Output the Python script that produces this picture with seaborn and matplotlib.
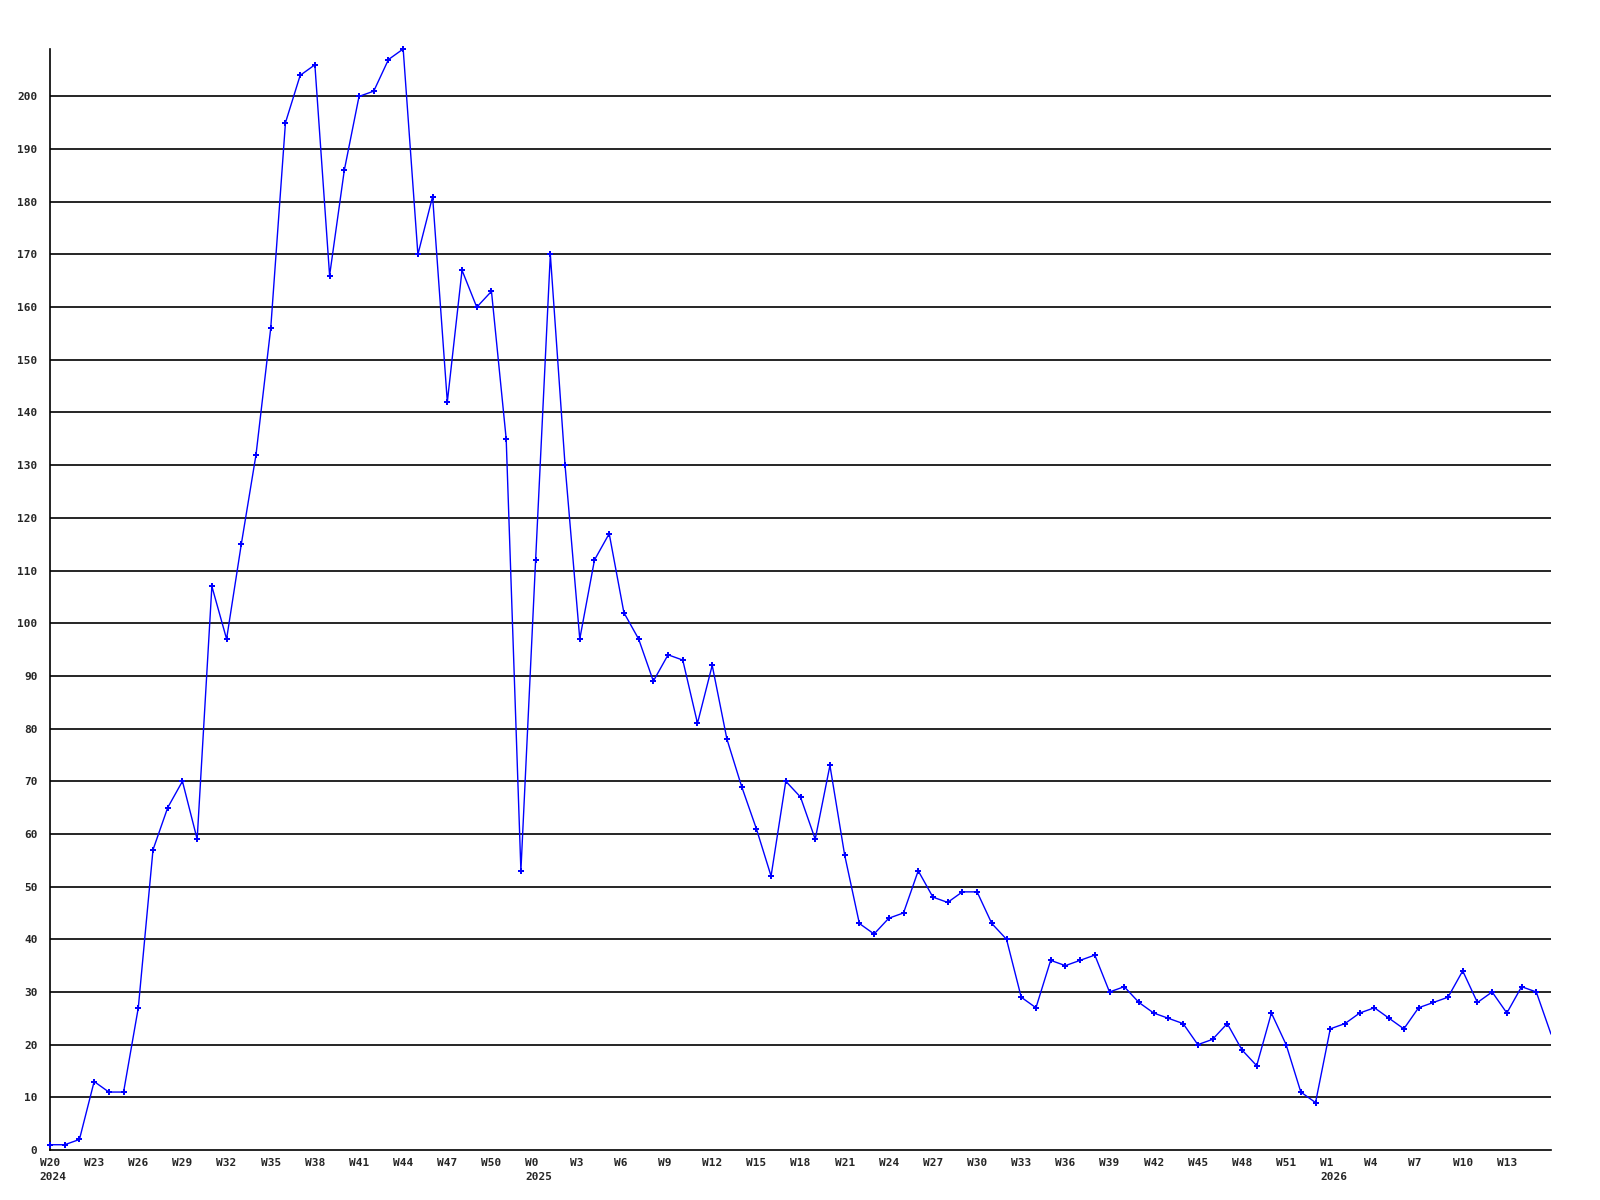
import matplotlib
matplotlib.use("Agg")
import matplotlib.pyplot as plt
import seaborn as sns
import pandas as pd

# Weekly values, 2024-W20 .. 2026-W16
weeks_2024 = ["W20", "W21", "W22", "W23", "W24", "W25", "W26", "W27", "W28", "W29",
              "W30", "W31", "W32", "W33", "W34", "W35", "W36", "W37", "W38", "W39",
              "W40", "W41", "W42", "W43", "W44", "W45", "W46", "W47", "W48", "W49",
              "W50", "W51", "W52"]
values_2024 = [1, 1, 2, 13, 11, 11, 27, 57, 65, 70,
               59, 107, 97, 115, 132, 156, 195, 204, 206, 166,
               186, 200, 201, 207, 209, 170, 181, 142, 167, 160,
               163, 135, 53]

weeks_2025 = ["W0", "W1", "W2", "W3", "W4", "W5", "W6", "W7", "W8", "W9",
              "W10", "W11", "W12", "W13", "W14", "W15", "W16", "W17", "W18", "W19",
              "W20", "W21", "W22", "W23", "W24", "W25", "W26", "W27", "W28", "W29",
              "W30", "W31", "W32", "W33", "W34", "W35", "W36", "W37", "W38", "W39",
              "W40", "W41", "W42", "W43", "W44", "W45", "W46", "W47", "W48", "W49",
              "W50", "W51", "W52"]
values_2025 = [112, 170, 130, 97, 112, 117, 102, 97, 89, 94,
               93, 81, 92, 78, 69, 61, 52, 70, 67, 59,
               73, 56, 43, 41, 44, 45, 53, 48, 47, 49,
               49, 43, 40, 29, 27, 36, 35, 36, 37, 30,
               31, 28, 26, 25, 24, 20, 21, 24, 19, 16,
               26, 20, 11]

weeks_2026 = ["W0", "W1", "W2", "W3", "W4", "W5", "W6", "W7", "W8", "W9",
              "W10", "W11", "W12", "W13", "W14", "W15", "W16"]
values_2026 = [9, 23, 24, 26, 27, 25, 23, 27, 28, 29,
               34, 28, 30, 26, 31, 30, 22]

# Tick labels (every third week) and year markers
tick_labels = ["W20", "W23", "W26", "W29", "W32", "W35", "W38", "W41", "W44",
               "W47", "W50", "W0", "W3", "W6", "W9", "W12", "W15", "W18",
               "W21", "W24", "W27", "W30", "W33", "W36", "W39", "W42", "W45",
               "W48", "W51", "W1", "W4", "W7", "W10", "W13"]
year_labels = ["2024", "2025", "2026"]
year_tick_index = [0, 11, 29]

y_ticks = [0, 10, 20, 30, 40, 50, 60, 70, 80, 90, 100, 110, 120, 130, 140, 150,
           160, 170, 180, 190, 200]

weeks = weeks_2024 + weeks_2025 + weeks_2026
values = values_2024 + values_2025 + values_2026
df = pd.DataFrame({"idx": range(len(values)), "week": weeks, "value": values})

sns.set_style("white")
plt.rcParams["font.family"] = ["DejaVu Sans Mono", "DejaVu Sans"]

fig = plt.figure(figsize=(16, 12), dpi=100)
ax = fig.add_axes([50 / 1600, 1 - 1150 / 1200, (1551 - 50) / 1600, (1150 - 49) / 1200])

for y in y_ticks[1:]:
    ax.axhline(y, color="black", linewidth=1.2, zorder=1)

n = len(values)
sns.lineplot(data=df.iloc[:n - 1], x="idx", y="value", ax=ax, color="#0000ff",
             linewidth=1.0, marker="P", markersize=4.5, markeredgewidth=0,
             zorder=3, clip_on=False)
sns.lineplot(data=df.iloc[n - 2:], x="idx", y="value", ax=ax, color="#0000ff",
             linewidth=1.0, zorder=3)

ax.set_xlim(0, n - 1)
ax.set_ylim(0, 209)
tick_pos = list(range(0, n - 1, 3))[:len(tick_labels)]
ax.set_xticks(tick_pos)
# pad short labels to the 3-character width so they sit like the original
ax.set_xticklabels([t.ljust(3) for t in tick_labels], fontsize=8,
                   fontweight="bold", va="top")
for yl, ti in zip(year_labels, year_tick_index):
    ax.annotate(yl, xy=(tick_pos[ti], 0), xycoords=("data", "axes fraction"),
                xytext=(-7.3, -19.5), textcoords="offset points",
                ha="left", va="center", fontsize=8, fontweight="bold",
                annotation_clip=False)
ax.set_yticks(y_ticks)
ax.set_yticklabels([str(v) for v in y_ticks], fontsize=8, fontweight="bold")
ax.tick_params(axis="both", length=0)
ax.tick_params(axis="x", pad=6)
ax.tick_params(axis="y", pad=9)
ax.set_xlabel("")
ax.set_ylabel("")
for side in ["top", "right"]:
    ax.spines[side].set_visible(False)
for side in ["left", "bottom"]:
    ax.spines[side].set_color("black")
    ax.spines[side].set_linewidth(1.2)
ax.grid(False)

fig.savefig("out.png", dpi=100, facecolor="white")
